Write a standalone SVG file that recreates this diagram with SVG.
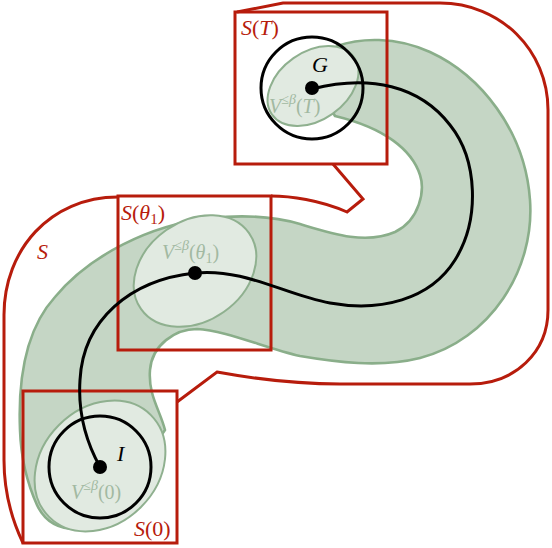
<svg xmlns="http://www.w3.org/2000/svg" width="552" height="548" viewBox="0 0 552 548">
<style>
.red{fill:none;stroke:#b71c0c;stroke-width:3;stroke-linejoin:miter}
.tube{fill:#c5d6c5;stroke:#8aae8a;stroke-width:2.6;stroke-linejoin:round}
.ell{fill:#e1eae1;stroke:#8fb08f;stroke-width:2}
.circ{fill:none;stroke:#000;stroke-width:3}
.traj{fill:none;stroke:#000;stroke-width:3;stroke-linecap:round}
.lbl{font-family:"Liberation Serif","DejaVu Serif",serif;font-size:22px}
.lr{fill:#b71c0c}
.lg{fill:#a2b9a2;font-size:20px}
.lk{fill:#000}
.it{font-style:italic}
</style>
<g id="tube">
<path class="tube" d="M337,46 C360,38 395,36 430,52 C480,75 525,130 530,200 C535,270 490,340 420,358 C380,368 335,362 300,356 C265,348 225,330 197,329 C175,329 152,345 150,370 C148,395 160,410 165,430 L130,480 L80,529 C60,530 45,522 37,505 C28,485 21,460 20,430 C18,380 25,330 55,297 C90,255 150,225 210,218 C250,214 280,218 300,224 C330,233 365,245 395,232 C420,220 425,190 420,175 C412,150 385,128 335,116 L320,90 Z"/>
</g>
<g id="V0"><ellipse class="ell" cx="100" cy="466" rx="72" ry="58" transform="rotate(-45 100 466)"/></g>
<g id="Vtheta1"><ellipse class="ell" cx="195" cy="271" rx="66" ry="50" transform="rotate(-35 195 271)"/></g>
<g id="VT"><ellipse class="ell" cx="313" cy="86" rx="50" ry="34" transform="rotate(-35 313 86)"/></g>
<g id="S">
<path class="red" d="M237,12 L283,3 L440,3 C500,3 548,50 548,110 L548,310 C548,352 515,384 470,384 L340,384 C290,384 250,378 217,372 L177,402"/>
<path class="red" d="M23,543 C12,520 4,490 4,460 L4,315 C4,250 50,197 118,197"/>
<path class="red" d="M271,196 C290,196 320,200 347,212 L363,199 L333,164"/>
<text class="lbl lr it" x="37" y="259">S</text>
</g>
<g id="ST">
<rect class="red" x="235" y="12" width="152" height="152"/>
<text class="lbl lr" x="241" y="35"><tspan class="it">S</tspan>(<tspan class="it">T</tspan>)</text>
</g>
<g id="Stheta1">
<rect class="red" x="118" y="196" width="153" height="154"/>
<text class="lbl lr" x="121" y="220"><tspan class="it">S</tspan>(<tspan class="it">θ</tspan><tspan font-size="15" dy="4">1</tspan><tspan dy="-4">)</tspan></text>
</g>
<g id="S0">
<rect class="red" x="23" y="391" width="154" height="152"/>
<text class="lbl lr" x="134" y="536"><tspan class="it">S</tspan>(0)</text>
</g>
<g id="labelsV">
<text class="lbl lg" x="269" y="113"><tspan class="it">V</tspan><tspan font-size="14" dy="-9">≤<tspan class="it">β</tspan></tspan><tspan dy="9">(</tspan><tspan class="it">T</tspan>)</text>
<text class="lbl lg" x="162" y="259"><tspan class="it">V</tspan><tspan font-size="14" dy="-9">≤<tspan class="it">β</tspan></tspan><tspan dy="9">(</tspan><tspan class="it">θ</tspan><tspan font-size="14" dy="4">1</tspan><tspan dy="-4">)</tspan></text>
<text class="lbl lg" x="71" y="499"><tspan class="it">V</tspan><tspan font-size="14" dy="-9">≤<tspan class="it">β</tspan></tspan><tspan dy="9">(0)</tspan></text>
</g>
<g id="connectors">
<path class="traj" d="M100,467 C85,440 78,410 80,380 C83,320 130,280 195,273 C245,268 285,295 330,303 C380,312 430,300 455,260 C480,220 478,160 450,125 C420,86 370,74 312,89"/>
</g>
<g id="I">
<circle class="circ" cx="100" cy="467" r="51"/>
<circle cx="100" cy="467" r="7"/>
<text class="lbl lk it" x="117" y="461">I</text>
</g>
<g id="theta1"><circle cx="195" cy="273" r="7"/></g>
<g id="G">
<circle class="circ" cx="312" cy="88" r="51"/>
<circle cx="312" cy="88" r="7"/>
<text class="lbl lk it" x="312" y="72">G</text>
</g>
</svg>
